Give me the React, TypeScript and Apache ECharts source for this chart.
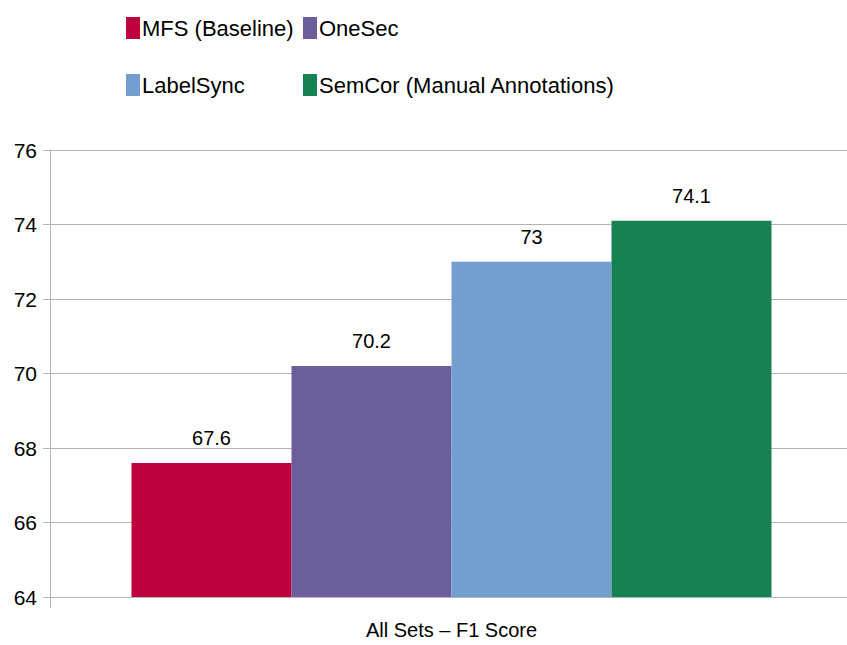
import React, { useEffect, useRef } from "react";
import * as echarts from "echarts";

const categories = ["All Sets – F1 Score"];
const seriesNames = ["MFS (Baseline)", "OneSec", "LabelSync", "SemCor (Manual Annotations)"];
const seriesValues = [[67.6], [70.2], [73], [74.1]];
const seriesColors = ["#be003c", "#6b5e9b", "#729fcf", "#168253"];
const yTicks = { min: 64, max: 76, interval: 2 };

const FONT = "'Liberation Sans', Arial, sans-serif";

const legendPos = [
  { left: 126, top: 17 },
  { left: 303, top: 17 },
  { left: 126, top: 74 },
  { left: 303, top: 74 },
];

export default function App() {
  const ref = useRef<HTMLDivElement>(null);
  useEffect(() => {
    if (!ref.current) return;
    document.body.style.overflow = "hidden";
    const chart = echarts.init(ref.current, null, { renderer: "svg" });
    chart.setOption({
      animation: false,
      backgroundColor: "#ffffff",
      legend: seriesNames.map((n, i) => ({
        data: [n],
        left: legendPos[i].left,
        top: legendPos[i].top,
        padding: 0,
        itemWidth: 14,
        itemHeight: 22,
        icon: "rect",
        selectedMode: false,
        textStyle: { fontFamily: FONT, fontSize: 22, color: "#000000", padding: [0, 0, 0, -3] },
      })),
      grid: { left: 50, top: 150, right: 0, height: 447, containLabel: false },
      xAxis: {
        type: "category",
        data: categories,
        axisLine: { show: true, lineStyle: { color: "#b3b3b3", width: 1 } },
        axisTick: { show: true, length: 11, lineStyle: { color: "#b3b3b3" } },
        axisLabel: { fontFamily: FONT, fontSize: 20, color: "#000000", margin: 23 },
        splitLine: { show: false },
      },
      yAxis: {
        type: "value",
        min: yTicks.min,
        max: yTicks.max,
        interval: yTicks.interval,
        axisLine: { show: true, lineStyle: { color: "#b3b3b3", width: 1 } },
        axisTick: { show: true, length: 7, lineStyle: { color: "#b3b3b3" } },
        axisLabel: { fontFamily: FONT, fontSize: 21, color: "#000000", margin: 13 },
        splitLine: { show: true, lineStyle: { color: "#b3b3b3", width: 1 } },
      },
      series: seriesNames.map((n, i) => ({
        name: n,
        type: "bar",
        data: seriesValues[i],
        barWidth: 160,
        barGap: "0%",
        itemStyle: { color: seriesColors[i] },
        label: {
          show: true,
          position: "top",
          distance: 15,
          fontFamily: FONT,
          fontSize: 20,
          color: "#000000",
        },
      })),
    });
    return () => chart.dispose();
  }, []);
  return (
    <div
      ref={ref}
      style={{ position: "fixed", left: 0, top: 0, width: 853, height: 645 }}
    />
  );
}
